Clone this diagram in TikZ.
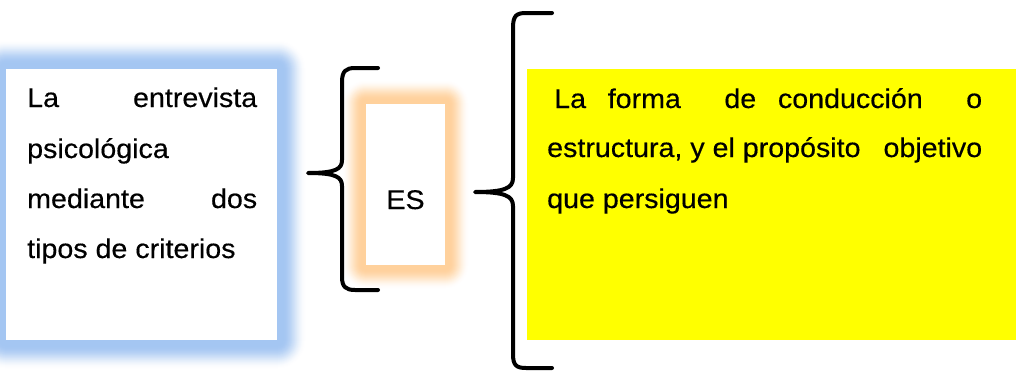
\documentclass[tikz,border=0pt]{standalone}
\usepackage{fontspec}
\setmainfont{Liberation Sans}[FakeStretch=1.06,FakeBold=0.4]
\usetikzlibrary{backgrounds,calc}
\definecolor{blueglow}{HTML}{A4C6F2}
\definecolor{orangeglow}{HTML}{FFD19C}
\definecolor{boxyellow}{HTML}{FFFF00}
\tikzset{
  plainbox/.style={draw=none, fill=white, inner sep=0pt, outer sep=0pt},
  yellowbox/.style={draw=none, fill=boxyellow, inner sep=0pt, outer sep=0pt},
  txt/.style={anchor=base west, inner sep=0pt, font=\fontsize{27}{30}\selectfont},
  bracestroke/.style={line width=4pt, line cap=round, line join=round, black}
}
\begin{document}
\begin{tikzpicture}[x=1pt,y=-1pt]
\useasboundingbox (0,0) rectangle (1016,375);
% boxes
\node[plainbox, minimum width=271pt, minimum height=271pt] (lb) at (141.5,204.5) {};
\node[plainbox, minimum width=79pt, minimum height=161pt] (es) at (405.5,184.5) {};
\node[yellowbox, minimum width=489pt, minimum height=271pt] (yb) at (771.5,204.5) {};
% glows
\begin{pgfonlayer}{background}
\foreach \k in {30,29,...,0}{
  \pgfmathtruncatemacro\p{\k<=6 ? 100 : 100*(1+cos(180*(\k-6)/24))/2}
  \fill[blueglow!\p!white, rounded corners=\k pt]
    ($(lb.north west)+(-\k,-\k)$) rectangle ($(lb.south east)+(\k,\k)$);
}
\foreach \k in {25,24,...,0}{
  \pgfmathtruncatemacro\p{\k<=4 ? 100 : 100*(1+cos(180*(\k-4)/21))/2}
  \fill[orangeglow!\p!white, rounded corners=\k pt]
    ($(es.north west)+(-\k,-\k)$) rectangle ($(es.south east)+(\k,\k)$);
}
\end{pgfonlayer}
% texts
\node[txt] (l1) at (27,107) {\makebox[230pt][l]{La\hfill entrevista}};
\node[txt] (l2) at (27,158) {psicológica};
\node[txt] (l3) at (27,208) {\makebox[230pt][l]{mediante\hfill dos}};
\node[txt] (l4) at (27,258) {tipos de criterios};
\node[txt, anchor=base] (est) at (405.5,209) {ES};
\node[txt] (r1) at (547,108) {\makebox[435pt][s]{\hspace{7pt}La forma\ \ de conducción\ \ o}};
\node[txt] (r2) at (547,157) {\makebox[435pt][l]{estructura, y el propósito\hfill objetivo}};
\node[txt] (r3) at (547,208) {que persiguen};
% braces
\coordinate (b1tip) at (308,173);
\coordinate (b2tip) at (475,192);
\draw[bracestroke] (378,68) -- (355,68) .. controls (346,68) and (342,71) .. (342,82)
  -- (342,160) .. controls (342,169) and (336,173) .. (b1tip)
  .. controls (336,173) and (342,177) .. (342,186)
  -- (342,277) .. controls (342,287) and (346,290) .. (355,290) -- (378,290);
\draw[bracestroke] (552,13) -- (526,13) .. controls (516,13) and (513,16) .. (513,28)
  -- (513,178) .. controls (513,188) and (505,192) .. (b2tip)
  .. controls (505,192) and (513,196) .. (513,206)
  -- (513,354) .. controls (513,365) and (516,368) .. (526,368) -- (552,368);
\end{tikzpicture}
\end{document}
